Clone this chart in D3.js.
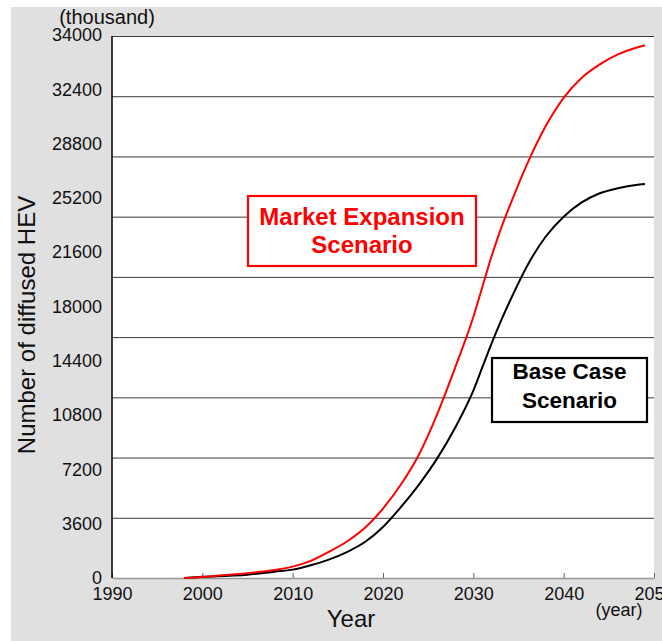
<!DOCTYPE html>
<html>
<head>
<meta charset="utf-8">
<script src="https://cdn.jsdelivr.net/npm/d3@7"></script>
<style>
  html, body { margin: 0; padding: 0; background: #fff; }
  svg { display: block; font-family: "Liberation Sans", Arial, Helvetica, sans-serif; }
</style>
</head>
<body>
<svg id="chart" width="662" height="641"></svg>
<script>
// ---- data ----
const years = [1998, 2000, 2003, 2005, 2008, 2010, 2012, 2014, 2016, 2018, 2020, 2022, 2024, 2026, 2028, 2030, 2031, 2032, 2033, 2034, 2036, 2038, 2040, 2042, 2044, 2046, 2048, 2049];
const baseCase = [0, 70, 140, 200, 380, 500, 760, 1100, 1550, 2150, 3050, 4250, 5600, 7150, 9000, 11200, 12600, 14000, 15300, 16500, 18700, 20400, 21600, 22450, 23000, 23300, 23500, 23550];
const marketExpansion = [0, 60, 200, 290, 480, 680, 1020, 1560, 2180, 3000, 4150, 5600, 7400, 9800, 12600, 15600, 17400, 19200, 20800, 22200, 24800, 27000, 28700, 29900, 30700, 31300, 31700, 31850];
const gridValues = [3600, 7200, 10800, 14400, 18000, 21600, 25200, 28800, 32400];
const yTickLabels = ["0", "3600", "7200", "10800", "14400", "18000", "21600", "25200", "28800", "32400", "34000"];
const xTicks = [1990, 2000, 2010, 2020, 2030, 2040, 2050];

// ---- layout ----
const svg = d3.select("#chart");
const L = 112, R = 654, T = 36, B = 578;

svg.append("rect").attr("x", 11).attr("y", 7).attr("width", 662 - 11).attr("height", 641 - 7).attr("fill", "#e0e0e0");
svg.append("rect").attr("x", L).attr("y", T).attr("width", R - L).attr("height", B - T).attr("fill", "#ffffff");

const x = d3.scaleLinear().domain([1990, 2050]).range([L, R]);
const y = d3.scaleLinear().domain([0, 32400]).range([B, T]);
const yLab = d3.scalePoint().domain(yTickLabels).range([B, 35]);

// gridlines
const grid = svg.append("g").attr("transform", `translate(${L},0)`)
  .call(d3.axisLeft(y).tickValues(gridValues).tickSize(-(R - L)).tickFormat(""));
grid.select(".domain").remove();
grid.selectAll(".tick line").attr("stroke", "#3a3a3a").attr("stroke-width", 1);

// y labels
const yl = svg.append("g").attr("transform", `translate(${L},0)`)
  .call(d3.axisLeft(yLab).tickSize(0).tickPadding(10));
yl.attr("font-size", 18).attr("font-family", "Liberation Sans, Arial, sans-serif");
yl.select(".domain").remove();
yl.selectAll("text").attr("fill", "#111");

// x axis
const xa = svg.append("g").attr("transform", `translate(0,${B})`)
  .call(d3.axisBottom(x).tickValues(xTicks).tickSizeInner(-5).tickSizeOuter(0).tickPadding(9).tickFormat(d3.format("d")));
xa.attr("font-size", 18).attr("font-family", "Liberation Sans, Arial, sans-serif");
xa.select(".domain").attr("stroke", "#999").attr("stroke-width", 1.5);
xa.selectAll(".tick line").attr("stroke", "#666");
xa.selectAll("text").attr("fill", "#111");

// left axis line
svg.append("line").attr("x1", L).attr("x2", L).attr("y1", y(32400)).attr("y2", y(0))
  .attr("stroke", "#000").attr("stroke-width", 1.5);

// lines
const line = d3.line().x((d, i) => x(years[i])).y(d => y(d)).curve(d3.curveMonotoneX);
svg.append("path").datum(baseCase).attr("d", line).attr("fill", "none").attr("stroke", "#000").attr("stroke-width", 2);
svg.append("path").datum(marketExpansion).attr("d", line).attr("fill", "none").attr("stroke", "#ff0000").attr("stroke-width", 2);

// annotation boxes
function box(x0, y0, w, h, color, lines, size, baselines) {
  svg.append("rect").attr("x", x0).attr("y", y0).attr("width", w).attr("height", h)
    .attr("fill", "#fff").attr("stroke", color).attr("stroke-width", 2.2);
  lines.forEach((t, i) => {
    svg.append("text").attr("x", x0 + w / 2).attr("y", baselines[i]).attr("text-anchor", "middle")
      .attr("font-size", size).attr("font-weight", "bold").attr("fill", color).text(t);
  });
}
box(248, 196, 228, 70, "#ff0000", ["Market Expansion", "Scenario"], 24, [225, 253]);
box(492, 358, 155, 64, "#000", ["Base Case", "Scenario"], 22.5, [379, 408]);

// titles
svg.append("text").attr("x", 107).attr("y", 24).attr("text-anchor", "middle").attr("font-size", 20).attr("fill", "#111").text("(thousand)");
svg.append("text").attr("x", 619).attr("y", 616).attr("text-anchor", "middle").attr("font-size", 18).attr("fill", "#111").text("(year)");
svg.append("text").attr("x", 351).attr("y", 627).attr("text-anchor", "middle").attr("font-size", 24).attr("fill", "#111").text("Year");
svg.append("text").attr("transform", "translate(35,325) rotate(-90)").attr("text-anchor", "middle").attr("font-size", 24).attr("fill", "#111").text("Number of diffused HEV");
</script>
</body>
</html>
